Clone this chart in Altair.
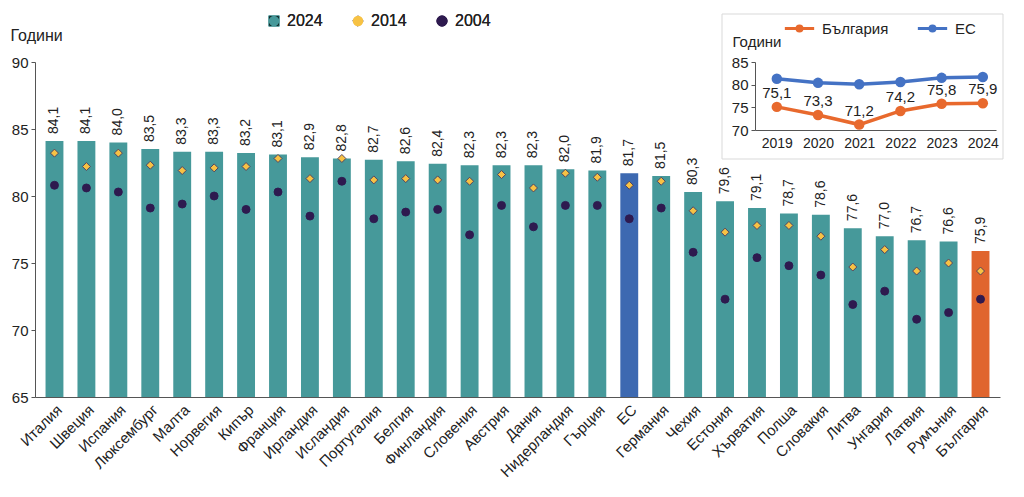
import altair as alt
import pandas as pd

# ---------------- data ----------------
countries = ["Италия", "Швеция", "Испания", "Люксембург", "Малта", "Норвегия", "Кипър",
             "Франция", "Ирландия", "Исландия", "Португалия", "Белгия", "Финландия",
             "Словения", "Австрия", "Дания", "Нидерландия", "Гърция", "ЕС", "Германия",
             "Чехия", "Естония", "Хърватия", "Полша", "Словакия", "Литва", "Унгария",
             "Латвия", "Румъния", "България"]
life_2024 = [84.1, 84.1, 84.0, 83.5, 83.3, 83.3, 83.2, 83.1, 82.9, 82.8, 82.7, 82.6, 82.4,
             82.3, 82.3, 82.3, 82.0, 81.9, 81.7, 81.5, 80.3, 79.6, 79.1, 78.7, 78.6, 77.6,
             77.0, 76.7, 76.6, 75.9]
life_2014 = [83.2, 82.2, 83.2, 82.3, 81.9, 82.1, 82.2, 82.8, 81.3, 82.8, 81.2, 81.3, 81.2,
             81.1, 81.6, 80.6, 81.7, 81.4, 80.8, 81.1, 78.9, 77.3, 77.8, 77.8, 77.0, 74.7,
             76.0, 74.4, 75.0, 74.4]
life_2004 = [80.8, 80.6, 80.3, 79.1, 79.4, 80.0, 79.0, 80.3, 78.5, 81.1, 78.3, 78.8, 79.0,
             77.1, 79.3, 77.7, 79.3, 79.3, 78.3, 79.1, 75.8, 72.3, 75.4, 74.8, 74.1, 71.9,
             72.9, 70.8, 71.3, 72.3]
series_names = ["2024", "2014", "2004"]

inset_years = [2019, 2020, 2021, 2022, 2023, 2024]
inset_bulgaria = [75.1, 73.3, 71.2, 74.2, 75.8, 75.9]
inset_eu = [81.3, 80.4, 80.1, 80.6, 81.5, 81.7]
inset_series = ["България", "ЕС"]

# ---------------- styles ----------------
TEAL = "#46999a"
BLUE_BAR = "#3d69b1"
ORANGE_BAR = "#e0652e"
YELLOW = "#f7c244"
DIAMOND_EDGE = "#4a3a5c"
PURPLE = "#2e1a4f"
LINE_ORANGE = "#e8692d"
LINE_BLUE = "#4472c4"
FONT = "Liberation Sans"
FONT_T = "'Liberation Sans Narrow', 'Liberation Sans', sans-serif"
TXT = "#222222"
AX = "#555555"

main_df = pd.DataFrame({"country": countries, "v": life_2024})
main_df["fillc"] = [BLUE_BAR if c == "ЕС" else ORANGE_BAR if c == "България" else TEAL
                    for c in countries]
pts_df = pd.concat([
    pd.DataFrame({"country": countries, "series": series_names[1], "v": life_2014}),
    pd.DataFrame({"country": countries, "series": series_names[2], "v": life_2004}),
], ignore_index=True)

inset_df = pd.DataFrame({
    "year": inset_years * 2,
    "series": [inset_series[0]] * len(inset_years) + [inset_series[1]] * len(inset_years),
    "val": inset_bulgaria + inset_eu,
})

# ---------------- main chart ----------------
x_main = alt.X("country:N", sort=countries,
               scale=alt.Scale(paddingInner=0.44, paddingOuter=0.33),
               axis=alt.Axis(title=None, labelAngle=-45, labelFontSize=15, labelFont=FONT,
                             labelColor=TXT, ticks=False, domainColor=AX, labelPadding=5,
                             labelOverlap=False))
y_main = alt.Y("v:Q", scale=alt.Scale(domain=[65, 90], nice=False, zero=False),
               axis=alt.Axis(values=[65, 70, 75, 80, 85, 90], title="Години", titleAngle=0,
                             titleAlign="left", titleBaseline="middle", titleX=-25, titleY=-27,
                             titleFontSize=16, titleFontWeight="normal", titleFont=FONT_T,
                             titleColor=TXT, labelFontSize=15, labelFont=FONT, labelColor=TXT,
                             grid=False, tickSize=4, tickColor=AX, domainColor=AX,
                             labelPadding=3, labelOverlap=False))

bars = alt.Chart(main_df).mark_bar().encode(
    x=x_main, y=y_main, y2=alt.datum(65),
    fill=alt.Fill("fillc:N", scale=None),
)

bar_text = alt.Chart(main_df).transform_calculate(
    label="replace(format(datum.v, '.1f'), '.', ',')"
).mark_text(angle=270, align="left", baseline="middle", dx=7, fontSize=14, font=FONT,
            color=TXT).encode(x=x_main, y=y_main, text="label:N")

leg_main = alt.Legend(title=None, orient="none", legendX=231, legendY=-49,
                      direction="horizontal", columnPadding=27, symbolSize=110,
                      labelFontSize=16, labelFont=FONT_T, labelFontWeight="normal",
                      labelColor=TXT, labelOffset=5, symbolStrokeWidth=1)
pts = alt.Chart(pts_df).mark_point(filled=True, size=64, strokeWidth=0.9, opacity=1).encode(
    x=x_main, y=y_main,
    color=alt.Color("series:N", scale=alt.Scale(domain=series_names,
                                                range=[TEAL, YELLOW, PURPLE]), legend=leg_main),
    shape=alt.Shape("series:N", scale=alt.Scale(domain=series_names,
                                                range=["square", "diamond", "circle"]),
                    legend=leg_main),
    stroke=alt.Stroke("series:N", scale=alt.Scale(domain=series_names,
                                                  range=[TEAL, DIAMOND_EDGE, PURPLE]),
                      legend=leg_main),
)

main_layer = alt.layer(bars, pts, bar_text)

# ---------------- inset chart ----------------
x_in = alt.X("year:Q", scale=alt.Scale(domain=[2018.47, 2024.32], range=[720, 961],
                                       nice=False, zero=False),
             axis=alt.Axis(orient="bottom", offset=-267, values=inset_years, format="d",
                           title=None, grid=False, ticks=False, labelFontSize=14,
                           labelFont=FONT, labelColor=TXT, domainColor=AX, labelPadding=6,
                           labelFlush=False, labelOverlap=False, zindex=2))
y_in = alt.Y("val:Q", scale=alt.Scale(domain=[70, 85], range=[68, 0], nice=False, zero=False),
             axis=alt.Axis(orient="left", offset=-720, values=[70, 75, 80, 85], title="Години",
                           titleAngle=0, titleAlign="left", titleBaseline="middle",
                           titleX=-23, titleY=-21, titleFontSize=15, titleFontWeight="normal",
                           titleFont=FONT, titleColor=TXT, labelFontSize=15, labelFont=FONT,
                           labelColor=TXT, grid=False, tickSize=4, tickColor=AX,
                           domainColor=AX, labelPadding=3, labelOverlap=False, zindex=2))

leg_path = ("M-1,0L1,0"
            "M-0.17,0A0.17,0.17,0,1,0,0.17,0A0.17,0.17,0,1,0,-0.17,0"
            "M-0.07,0A0.07,0.07,0,1,0,0.07,0A0.07,0.07,0,1,0,-0.07,0")
leg_in = alt.Legend(title=None, orient="none", legendX=748, legendY=-50,
                    direction="horizontal", columnPadding=22, symbolType=leg_path,
                    symbolSize=860, symbolStrokeWidth=3, labelFontSize=15, labelFont=FONT,
                    labelFontWeight="normal", labelColor=TXT, labelOffset=6, zindex=2)
color_in = alt.Scale(domain=inset_series, range=[LINE_ORANGE, LINE_BLUE])

box = alt.Chart(pd.DataFrame({"k": [0]})).mark_rect(
    fill="white", stroke="#d9d9d9", strokeWidth=1
).encode(x=alt.value(687), x2=alt.value(968), y=alt.value(-48), y2=alt.value(97))

lines = alt.Chart(inset_df).mark_line(strokeWidth=3.5).encode(
    x=x_in, y=y_in, color=alt.Color("series:N", scale=color_in, legend=leg_in))
dots = alt.Chart(inset_df).mark_point(filled=True, size=110, opacity=1).encode(
    x=x_in, y=y_in, color=alt.Color("series:N", scale=color_in, legend=None))
in_text = alt.Chart(inset_df).transform_filter(
    alt.datum.series == inset_series[0]
).transform_calculate(
    label="replace(format(datum.val, '.1f'), '.', ',')"
).mark_text(dy=-14, fontSize=15, font=FONT, color=TXT).encode(x=x_in, y=y_in, text="label:N")

inset_layer = alt.layer(box, lines, dots, in_text)

chart = alt.layer(main_layer, inset_layer).resolve_scale(
    x="independent", y="independent", color="independent"
).properties(
    width=965, height=335,
    autosize=alt.AutoSizeParams(type="none"),
    padding={"left": 27, "top": 54, "right": 16, "bottom": 100},
).configure_view(stroke=None)

chart.save("out.html", embed_options={"renderer": "svg", "actions": False})
